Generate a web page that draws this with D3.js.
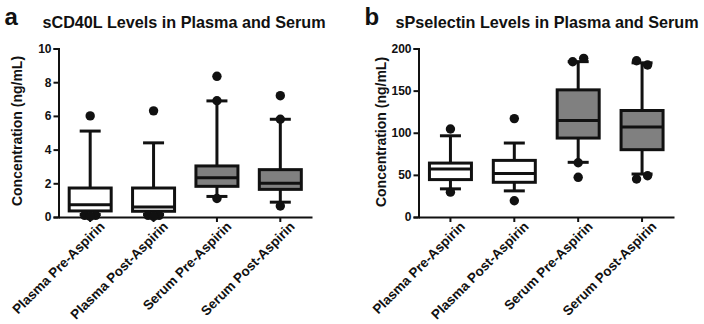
<!DOCTYPE html>
<html>
<head>
<meta charset="utf-8">
<script src="https://cdn.jsdelivr.net/npm/d3@7"></script>
<style>
  body { margin: 0; background: #fff; }
  svg text { font-family: "Liberation Sans", Arial, sans-serif; font-weight: bold; fill: #111; }
</style>
</head>
<body>
<div id="chart"></div>
<script>
const categories = ["Plasma Pre-Aspirin", "Plasma Post-Aspirin", "Serum Pre-Aspirin", "Serum Post-Aspirin"];

// sCD40L (ng/mL)
const cd40Low = [0.15, 0.15, 1.22, 0.88];
const cd40Q1 = [0.36, 0.34, 1.82, 1.64];
const cd40Median = [0.72, 0.6, 2.33, 2.01];
const cd40Q3 = [1.72, 1.72, 3.03, 2.81];
const cd40High = [5.1, 4.4, 6.89, 5.8];
// [category index, value, side]
const cd40Outliers = [
  [0, 6.0, 0], [0, 0.1, -1], [0, 0.1, 1], [0, 0.03, 0],
  [1, 6.3, 0], [1, 0.1, -1], [1, 0.1, 1], [1, 0.03, 0],
  [2, 8.35, 0], [2, 6.9, 0], [2, 1.1, 0],
  [3, 7.2, 0], [3, 5.8, 0], [3, 0.65, 0]
];
const cd40Ticks = [0, 2, 4, 6, 8, 10];

// sPselectin (ng/mL)
const spLow = [33.4, 31, 64.9, 51];
const spQ1 = [44.4, 41.2, 93.7, 79.9];
const spMedian = [57, 51.5, 114.6, 106.7];
const spQ3 = [64, 67.2, 150.9, 126.4];
const spHigh = [96.4, 87.8, 184.4, 183];
const spOutliers = [
  [0, 104.5, 0], [0, 29.5, 0],
  [1, 116.8, 0], [1, 19.3, 0],
  [2, 184.3, -1], [2, 188.3, 1], [2, 64.4, 0], [2, 47.1, 0],
  [3, 185.5, -1], [3, 180.4, 1], [3, 45.1, -1], [3, 49, 1]
];
const spTicks = [0, 50, 100, 150, 200];

const boxFills = ["#ffffff", "#ffffff", "#808080", "#808080"];

const svg = d3.select("#chart").append("svg").attr("width", 704).attr("height", 324);

function drawPanel(o) {
  const g = svg.append("g");
  const x = d3.scaleBand().domain(categories).range([o.x0, o.x1]).padding(0);
  const y = d3.scaleLinear().domain([0, o.max]).range([217, 48.5]);
  const bw = 42, cap = 10.5, side = 5.5;

  // letter + title
  g.append("text").attr("x", o.x0 - 54).attr("y", 25).attr("font-size", 24).text(o.letter);
  g.append("text").attr("x", o.titleX).attr("y", 28).attr("text-anchor", "middle")
    .attr("font-size", 16.2).text(o.title);

  // y axis
  const ya = g.append("g").attr("transform", `translate(${o.x0},0)`)
    .call(d3.axisLeft(y).tickValues(o.ticks).tickSize(5).tickPadding(2));
  ya.select(".domain").attr("stroke", "#111").attr("stroke-width", 2);
  ya.selectAll(".tick line").attr("stroke", "#111").attr("stroke-width", 2);
  ya.selectAll(".tick text").attr("font-size", 12).attr("font-family", null);

  g.append("text")
    .attr("transform", `translate(${o.x0 - o.labelDx},${o.labelY}) rotate(-90)`)
    .attr("text-anchor", "middle").attr("font-size", 14).text("Concentration (ng/mL)");

  // x axis
  const xa = g.append("g").attr("transform", `translate(0,${y(0)})`)
    .call(d3.axisBottom(x).tickSize(5).tickSizeOuter(0).tickPadding(2));
  xa.select(".domain").attr("stroke", "#111").attr("stroke-width", 2);
  xa.selectAll(".tick line").attr("stroke", "#111").attr("stroke-width", 2);
  xa.selectAll(".tick text").attr("font-size", 13.5).attr("font-family", null)
    .attr("text-anchor", "end").attr("transform", "translate(7,2) rotate(-45)").attr("dy", "0.35em");

  const cx = c => x(c) + x.bandwidth() / 2;

  categories.forEach((c, i) => {
    const bx = g.append("g");
    // whiskers
    bx.append("line").attr("x1", cx(c)).attr("x2", cx(c)).attr("y1", y(o.high[i])).attr("y2", y(o.q3[i]))
      .attr("stroke", "#111").attr("stroke-width", 3);
    bx.append("line").attr("x1", cx(c)).attr("x2", cx(c)).attr("y1", y(o.q1[i])).attr("y2", y(o.low[i]))
      .attr("stroke", "#111").attr("stroke-width", 3);
    [o.high[i], o.low[i]].forEach(v => {
      bx.append("line").attr("x1", cx(c) - cap).attr("x2", cx(c) + cap).attr("y1", y(v)).attr("y2", y(v))
        .attr("stroke", "#111").attr("stroke-width", 3);
    });
    // box
    bx.append("rect").attr("x", cx(c) - bw / 2).attr("width", bw)
      .attr("y", y(o.q3[i])).attr("height", y(o.q1[i]) - y(o.q3[i]))
      .attr("fill", boxFills[i]).attr("stroke", "#111").attr("stroke-width", 3);
    bx.append("line").attr("x1", cx(c) - bw / 2).attr("x2", cx(c) + bw / 2)
      .attr("y1", y(o.median[i])).attr("y2", y(o.median[i]))
      .attr("stroke", "#111").attr("stroke-width", 3);
  });

  g.selectAll("circle.out").data(o.outliers).enter().append("circle")
    .attr("class", "out")
    .attr("cx", d => cx(categories[d[0]]) + d[2] * side)
    .attr("cy", d => y(d[1]))
    .attr("r", 4.7).attr("fill", "#111");
}

drawPanel({
  letter: "a", title: "sCD40L Levels in Plasma and Serum", titleX: 184, labelY: 131, labelDx: 37,
  x0: 58.5, x1: 312, max: 10, ticks: cd40Ticks,
  low: cd40Low, q1: cd40Q1, median: cd40Median, q3: cd40Q3, high: cd40High, outliers: cd40Outliers
});
drawPanel({
  letter: "b", title: "sPselectin Levels in Plasma and Serum", titleX: 547, labelY: 132, labelDx: 33,
  x0: 418.5, x1: 674, max: 200, ticks: spTicks,
  low: spLow, q1: spQ1, median: spMedian, q3: spQ3, high: spHigh, outliers: spOutliers
});
</script>
</body>
</html>
